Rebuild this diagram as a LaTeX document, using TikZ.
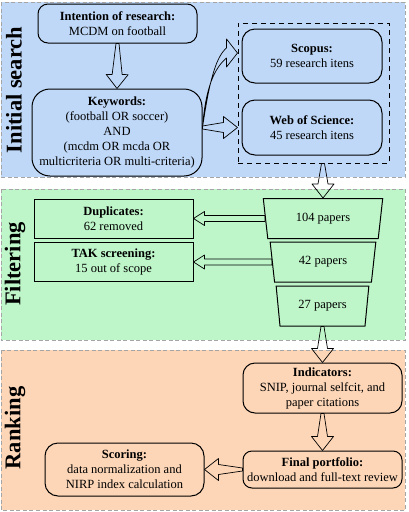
\documentclass[tikz,border=0pt]{standalone}
\usepackage{fontspec}
\setmainfont{Liberation Serif}
\usetikzlibrary{calc,shapes.geometric}
\definecolor{initbg}{RGB}{191,216,248}
\definecolor{filtbg}{RGB}{190,246,201}
\definecolor{rankbg}{RGB}{253,214,183}
\definecolor{panelgray}{RGB}{165,165,165}
\newcommand{\fnt}{\fontsize{12.5}{15}\selectfont}
% block arrow: from, to, tail half width, neck half width, head half width, head length
\newcommand{\barrow}[6]{
	\coordinate (neck) at ($(#2)!#6!(#1)$);
	\draw [arr] ($(#1)!#3!90:(#2)$) -- ($(neck)!#4!90:(#2)$) -- ($(neck)!#5!90:(#2)$) -- (#2) -- ($(neck)!#5!-90:(#2)$) -- ($(neck)!#4!-90:(#2)$) -- ($(#1)!#3!-90:(#2)$) -- cycle;
	}
\newcommand{\bigarrow}[2]{\barrow{#1}{#2}{1.5pt}{5pt}{11pt}{14pt}}
\newcommand{\thinarrow}[2]{\barrow{#1}{#2}{3pt}{3pt}{7pt}{11pt}}
% curved block arrow rising from a point, head pointing right
\newcommand{\carrow}[2]{
	\coordinate (neck) at ($(#2)+(-11,0)$);
	\draw [arr] (#1) .. controls +(6,-40) and +(-12,10) .. ($(neck)+(0,-5)$) -- ($(neck)+(0,-14)$) -- (#2)
	  -- ($(neck)+(0,14)$) -- ($(neck)+(0,5)$) .. controls +(-12,10) and +(3,-40) .. (#1) -- cycle;
	}

\begin{document}
\begin{tikzpicture}[
      x=1pt, y=-1pt, %pixel grid of the reference
      panel/.style={draw=panelgray, dash pattern=on 4pt off 2.5pt, line width=0.8pt},
      rbox/.style={draw, line width=1pt, rounded corners=10pt, align=center, font=\fnt, inner sep=1pt},
      sbox/.style={draw, line width=1pt, align=center, font=\fnt, inner sep=1pt},
      funnel/.style={draw, line width=1pt, trapezium, shape border rotate=180, trapezium angle=80,
        trapezium stretches=true, minimum height=40pt, font=\fnt, inner sep=1pt},
      arr/.style={line width=0.7pt, line join=round},
      side/.style={rotate=90, font=\fontsize{22.5}{27}\selectfont\bfseries}
    ]
    \useasboundingbox (0,0) rectangle (408,512);
    % Draw the three stages
    \draw [panel, fill=initbg] (1,2) rectangle (405,177);
    \draw [panel, fill=filtbg] (1,189) rectangle (405,340);
    \draw [panel, fill=rankbg] (1,350) rectangle (405,510);
    \node[side] (sInit) at (14,90) {Initial search};
    \node[side] (sFilt) at (15,264) {Filtering};
    \node[side] (sRank) at (15,428) {Ranking};
    % Initial search
    \node[rbox, minimum width=159, minimum height=39] (intent) at (117.5,23.5)
      {\textbf{Intention of research:}\\MCDM on football};
    \node[rbox, rounded corners=18pt, minimum width=170, minimum height=87] (kw) at (117,132.5)
      {\textbf{Keywords:}\\(football OR soccer)\\AND\\(mcdm OR mcda OR\\multicriteria OR multi-criteria)};
    \node[draw, line width=1pt, dash pattern=on 5pt off 4pt, minimum width=151, minimum height=140] (db) at (313.5,93) {};
    \node[rbox, rounded corners=13pt, minimum width=140, minimum height=54] (scopus) at (312,56)
      {\textbf{Scopus:}\\59 research itens};
    \node[rbox, rounded corners=13pt, minimum width=140, minimum height=55] (wos) at (312,127.5)
      {\textbf{Web of Science:}\\45 research itens};
    % Filtering
    \node[funnel, minimum width=120] (t1) at (323,218.5) {104 papers};
    \node[funnel, minimum width=106] (t2) at (323,262) {42 papers};
    \node[funnel, minimum width=93] (t3) at (322.5,306) {27 papers};
    \node[sbox, minimum width=159, minimum height=39] (dup) at (113.5,218.5)
      {\textbf{Duplicates:}\\62 removed};
    \node[sbox, minimum width=159, minimum height=39] (tak) at (113.5,262)
      {\textbf{TAK screening:}\\15 out of scope};
    % Ranking
    \node[rbox, rounded corners=12pt, minimum width=159, minimum height=50] (ind) at (322.5,388)
      {\textbf{Indicators:}\\SNIP, journal selfcit, and\\paper citations};
    \node[rbox, rounded corners=9pt, minimum width=159, minimum height=37] (fin) at (322.5,469.5)
      {\textbf{Final portfolio:}\\download and full-text review};
    \node[rbox, rounded corners=13pt, minimum width=159, minimum height=53] (sco) at (124.5,469.5)
      {\textbf{Scoring:}\\data normalization and\\NIRP index calculation};
    % Draw the arrows
    \bigarrow{intent.south}{kw.north};
    \carrow{[yshift=5pt]kw.east}{[yshift=3pt]db.west |- scopus.west};
    \bigarrow{[yshift=5pt]kw.east}{db.west |- wos.west};
    \bigarrow{db.south -| t1.north}{t1.north};
    \thinarrow{t1.west}{dup.east};
    \thinarrow{t2.west}{tak.east};
    \bigarrow{t3.south}{ind.north -| t3.south};
    \bigarrow{ind.south}{fin.north};
    \bigarrow{fin.west}{sco.east};
\end{tikzpicture}
\end{document}
